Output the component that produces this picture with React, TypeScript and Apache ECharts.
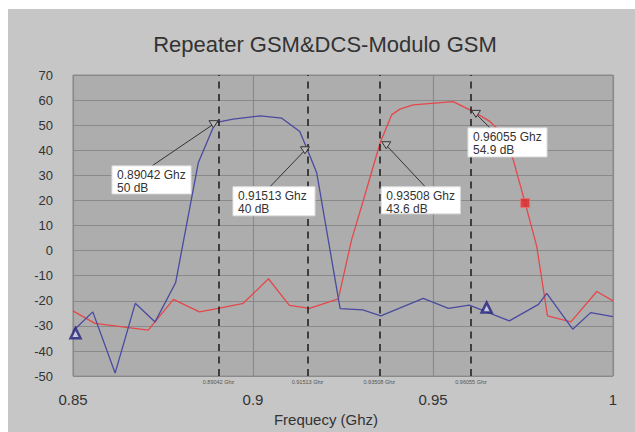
import React, { useEffect, useRef } from "react";
import * as echarts from "echarts";

// ---- data ----
const blueFreq = [0.85, 0.8555, 0.8617, 0.8673, 0.8728, 0.8785, 0.8848, 0.8895, 0.8945, 0.902, 0.908, 0.913, 0.9149, 0.9177, 0.9242, 0.9305, 0.9355, 0.9473, 0.9543, 0.9601, 0.9712, 0.9793, 0.9816, 0.9888, 0.9938, 1.0];
const blueDb = [-32, -24.4, -48.8, -21, -28.4, -12.8, 35, 51, 52.4, 53.7, 52.8, 47.5, 40.9, 31, -23.1, -23.6, -26, -19, -23, -21.7, -28, -21.4, -17, -31.3, -24.7, -26.3];

const redFreq = [0.85, 0.8561, 0.8709, 0.8779, 0.8851, 0.8904, 0.8973, 0.9043, 0.9101, 0.9157, 0.9237, 0.9274, 0.9307, 0.9353, 0.9385, 0.9408, 0.9445, 0.9556, 0.9612, 0.9658, 0.9686, 0.9723, 0.9756, 0.9788, 0.9818, 0.9883, 0.9955, 1.0];
const redDb = [-24, -29, -31.7, -19.4, -24.4, -23, -21, -11.2, -21.8, -23, -19.2, 4.4, 20.3, 42.9, 54.1, 56.4, 58.1, 59.4, 55.4, 51.5, 47.5, 36.2, 19, 1.8, -26, -28.4, -16.3, -20];

const blueMarkFreq = [0.8507, 0.9649];
const blueMarkDb = [-32.9, -22.7];
const redMarkFreq = [0.9756];
const redMarkDb = [19];

const markerFreqs = [0.89042, 0.91513, 0.93508, 0.96055];
const markerDb = [50, 40, 43.6, 54.9];

const xTicks = [0.85, 0.9, 0.95, 1];
const yMin = -50;
const yMax = 70;

const titleText = "Repeater GSM&DCS-Modulo GSM";
const xName = "Frequecy (Ghz)";

// ---- annotation layout (pixels, relative to the marker point) ----
const annLayout = [
  { boxDx: -106.5, boxDy: 40.7, w: 79, h: 28, anchorDx: 40, triDx: -5, triDy: -1 },
  { boxDx: -74.5, boxDy: 36.5, w: 82, h: 29, anchorDx: 37, triDx: -2.5, triDy: 0 },
  { boxDx: 2, boxDy: 45.6, w: 79, h: 27, anchorDx: 44, triDx: 7, triDy: 4 },
  { boxDx: -3, boxDy: 15, w: 79, h: 29, anchorDx: 22, triDx: 5, triDy: 1 },
];

const FONT = "Liberation Sans, Arial, sans-serif";

export default function App() {
  const ref = useRef<HTMLDivElement>(null);
  useEffect(() => {
    if (!ref.current) return;
    const chart = echarts.init(ref.current, null, { renderer: "svg" });
    const zip = (a: number[], b: number[]) => a.map((v, i) => [v, b[i]]);
    const option = {
      animation: false,
      backgroundColor: "#c6c6c6",
      textStyle: { fontFamily: FONT },
      title: {
        text: titleText,
        left: 317,
        textAlign: "center",
        top: 24,
        padding: 0,
        textStyle: { fontSize: 22, fontWeight: "normal", color: "#333", fontFamily: FONT },
      },
      grid: {
        left: 65,
        right: 22,
        top: 66,
        bottom: 55,
        show: true,
        backgroundColor: "#adadad",
        borderColor: "#8a8a8a",
        borderWidth: 1,
      },
      xAxis: {
        type: "value",
        min: 0.85,
        max: 1,
        interval: 0.05,
        name: xName,
        nameLocation: "middle",
        nameGap: 33,
        nameTextStyle: { fontSize: 15, color: "#333", padding: [0, 34, 0, 0], fontFamily: FONT },
        axisLine: { show: false },
        axisTick: { show: false },
        axisLabel: {
          fontSize: 15,
          color: "#333",
          margin: 16,
          fontFamily: FONT,
          formatter: (v: number) => {
            const t = xTicks.find((k) => Math.abs(k - v) < 1e-6);
            return t === undefined ? "" : String(t);
          },
        },
        splitLine: { show: true, lineStyle: { color: "#8a8a8a", width: 1.2 } },
      },
      yAxis: {
        type: "value",
        min: yMin,
        max: yMax,
        interval: 10,
        axisLine: { show: false },
        axisTick: { show: false },
        axisLabel: { fontSize: 13, color: "#333", margin: 20, fontFamily: FONT },
        splitLine: { show: true, lineStyle: { color: "#8a8a8a", width: 1.2 } },
      },
      series: [
        {
          type: "line",
          name: "red",
          data: zip(redFreq, redDb),
          showSymbol: false,
          symbol: "none",
          lineStyle: { color: "#e5484b", width: 1.3 },
          z: 3,
        },
        {
          type: "line",
          name: "blue",
          data: zip(blueFreq, blueDb),
          showSymbol: false,
          symbol: "none",
          lineStyle: { color: "#4a4aa0", width: 1.3 },
          z: 3,
          markLine: {
            silent: true,
            symbol: "none",
            precision: 5,
            lineStyle: { color: "#222", width: 1.6, type: [7, 5.5] },
            label: {
              show: true,
              position: "start",
              distance: 3,
              fontSize: 5.5,
              color: "#555",
              fontFamily: FONT,
              formatter: (p: any) => `${markerFreqs[p.dataIndex]} Ghz`,
            },
            data: markerFreqs.map((f) => ({ xAxis: f })),
          },
        },
        {
          type: "scatter",
          name: "blueMarks",
          data: zip(blueMarkFreq, blueMarkDb),
          symbol: "triangle",
          symbolSize: [10, 10],
          itemStyle: { color: "#d0d0e8", borderColor: "#22227a", borderWidth: 2.5 },
          z: 5,
        },
        {
          type: "scatter",
          name: "redMarks",
          data: zip(redMarkFreq, redMarkDb),
          symbol: "rect",
          symbolSize: 9,
          itemStyle: { color: "#e02828", borderColor: "#f07070", borderWidth: 1 },
          z: 5,
        },
        {
          type: "custom",
          name: "annotations",
          clip: false,
          z: 10,
          data: markerFreqs.map((f, i) => [f, markerDb[i], i]),
          renderItem: (params: any, api: any) => {
            const i = api.value(2);
            const f = api.value(0);
            const db = api.value(1);
            const pt = api.coord([f, db]);
            const L = annLayout[i];
            const bx = pt[0] + L.boxDx;
            const by = pt[1] + L.boxDy;
            const tx = pt[0] + L.triDx;
            const ty = pt[1] + L.triDy;
            return {
              type: "group",
              children: [
                {
                  type: "line",
                  shape: { x1: bx + L.anchorDx, y1: by, x2: tx, y2: ty },
                  style: { stroke: "#333", lineWidth: 1 },
                },
                {
                  type: "polygon",
                  shape: { points: [[tx - 4.5, ty - 3.5], [tx + 4.5, ty - 3.5], [tx, ty + 3.5]] },
                  style: { fill: "#b8b8b8", stroke: "#333", lineWidth: 1 },
                },
                {
                  type: "rect",
                  shape: { x: bx, y: by, width: L.w, height: L.h },
                  style: { fill: "#ffffff", stroke: "#e0e0e0", lineWidth: 1 },
                },
                {
                  type: "text",
                  style: {
                    text: `${markerFreqs[i]} Ghz\n${markerDb[i]} dB`,
                    x: bx + 5,
                    y: by + 3,
                    fill: "#333",
                    fontSize: 12,
                    lineHeight: 13,
                    fontFamily: FONT,
                  },
                },
              ],
            };
          },
        },
      ],
    };
    chart.setOption(option as any);
    return () => chart.dispose();
  }, []);
  return (
    <div
      ref={ref}
      style={{ position: "absolute", left: 8, top: 9, width: 627, height: 423 }}
    />
  );
}
